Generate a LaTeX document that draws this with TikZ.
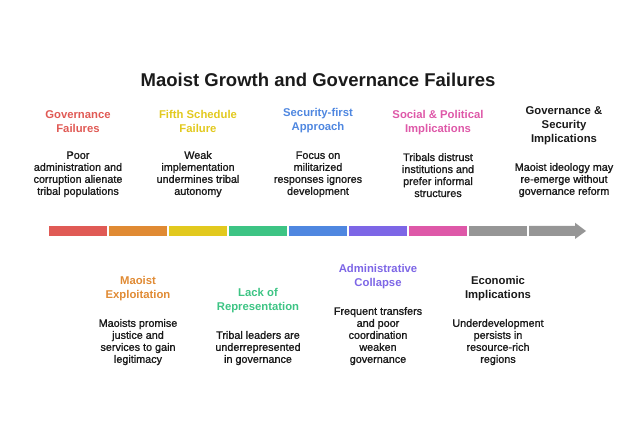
\documentclass[tikz,border=0pt]{standalone}
\usepackage{fontspec}
\setmainfont{Liberation Sans}
\newfontfamily\mediumfont{Liberation Sans}[FakeBold=1.2]
\usetikzlibrary{positioning}

\definecolor{cRed}{HTML}{E05A55}
\definecolor{cOrange}{HTML}{E08A33}
\definecolor{cYellow}{HTML}{E2C91E}
\definecolor{cGreen}{HTML}{3DC484}
\definecolor{cBlue}{HTML}{4F87E0}
\definecolor{cPurple}{HTML}{7D66E6}
\definecolor{cPink}{HTML}{DE58A8}
\definecolor{cGray}{HTML}{969696}
\definecolor{cText}{HTML}{1A1A1A}

\begin{document}
\begin{tikzpicture}[
    x=1pt, y=1pt,
    heading/.style={font=\bfseries\fontsize{11.3}{14}\selectfont, align=center, inner sep=0pt},
    desc/.style={font=\mediumfont\fontsize{10.8}{12}\selectfont, text=cText, align=center, inner sep=0pt, anchor=south},
    segment/.style={fill=#1, draw=none},
    node distance=18pt
]
    \useasboundingbox (0,0) rectangle (636,438);

    % Levels
    \def\topY{240.7}
    \def\botY{72.7}
    \def\barY{202}

    % Title
    \node[font=\bfseries\fontsize{18.5}{22}\selectfont, anchor=base, text=cText] (title) at (318, 351) {Maoist Growth and Governance Failures};

    % Timeline bar
    \foreach \c [count=\i from 0] in {cRed, cOrange, cYellow, cGreen, cBlue, cPurple, cPink, cGray} {
        \fill[segment=\c] (49+60*\i, \barY) rectangle +(57.7, 10);
    }
    \fill[segment=cGray] (529,\barY) -- (575,\barY) -- (575,199) -- (586,207) -- (575,215.3) -- (575,\barY+10) -- (529,\barY+10) -- cycle;

    % Upper entries
    \node[desc] (govD) at (78, \topY) {Poor\\administration and\\corruption alienate\\tribal populations};
    \node[heading, text=cRed, above=of govD] (govT) {Governance\\Failures};

    \node[desc] (fifthD) at (198, \topY) {Weak\\implementation\\undermines tribal\\autonomy};
    \node[heading, text=cYellow, above=of fifthD] (fifthT) {Fifth Schedule\\Failure};

    \node[desc] (secD) at (318, \topY) {Focus on\\militarized\\responses ignores\\development};
    \node[heading, text=cBlue, above=of secD] (secT) {Security-first\\Approach};

    \node[desc] (socD) at (438, \topY) {Tribals distrust\\institutions and\\prefer informal\\structures};
    \node[heading, text=cPink, above=of socD] (socT) {Social \& Political\\Implications};

    \node[desc] (govsecD) at (564, \topY) {Maoist ideology may\\re-emerge without\\governance reform};
    \node[heading, text=cText, above=of govsecD] (govsecT) {Governance \&\\Security\\Implications};

    % Lower entries
    \node[desc] (exploitD) at (138, \botY) {Maoists promise\\justice and\\services to gain\\legitimacy};
    \node[heading, text=cOrange, above=of exploitD] (exploitT) {Maoist\\Exploitation};

    \node[desc] (reprD) at (258, \botY) {Tribal leaders are\\underrepresented\\in governance};
    \node[heading, text=cGreen, above=of reprD] (reprT) {Lack of\\Representation};

    \node[desc] (adminD) at (378, \botY) {Frequent transfers\\and poor\\coordination\\weaken\\governance};
    \node[heading, text=cPurple, above=of adminD] (adminT) {Administrative\\Collapse};

    \node[desc] (econD) at (498, \botY) {Underdevelopment\\persists in\\resource-rich\\regions};
    \node[heading, text=cText, above=of econD] (econT) {Economic\\Implications};

\end{tikzpicture}
\end{document}
